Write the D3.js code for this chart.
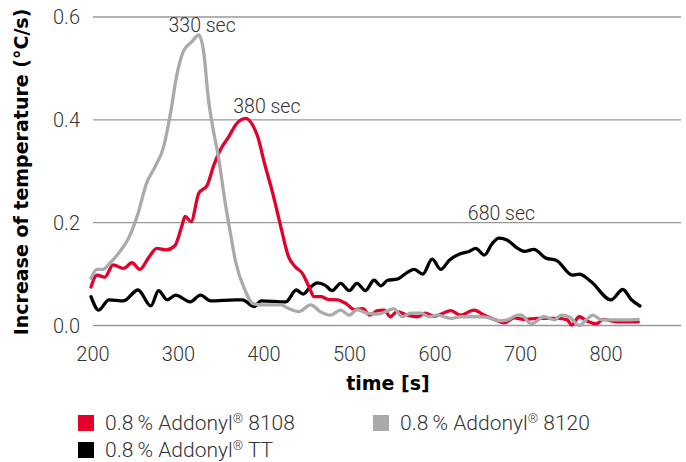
<!DOCTYPE html>
<html>
<head>
<meta charset="utf-8">
<script src="https://cdn.jsdelivr.net/npm/d3@7"></script>
<style>
  body { margin: 0; background: #fff; }
  svg text { font-family: Roboto, "Liberation Sans", sans-serif; }
  svg text.title { font-family: "DejaVu Sans", sans-serif; font-weight: 700; }
</style>
</head>
<body>
<div id="chart"></div>
<script>
// values
var xTicks = [200, 300, 400, 500, 600, 700, 800];
var yTicks = [0.0, 0.2, 0.4, 0.6];

var redTime = [200, 207, 216, 226, 238, 248, 257, 267, 277, 288, 298, 306, 310, 317, 326, 336, 343, 351, 361, 370, 381, 389, 395, 403, 413, 422, 431, 439, 447, 455, 461, 469, 477, 488, 498, 508, 518, 526, 535, 543, 550, 558, 570, 582, 591, 601, 621, 632, 648, 660, 673, 683, 695, 706, 722, 746, 757, 762, 771, 781, 791, 799, 816, 840];
var redRate = [0.075, 0.098, 0.094, 0.118, 0.111, 0.122, 0.109, 0.131, 0.150, 0.147, 0.155, 0.192, 0.212, 0.202, 0.257, 0.273, 0.309, 0.341, 0.367, 0.392, 0.403, 0.390, 0.367, 0.315, 0.254, 0.192, 0.134, 0.114, 0.102, 0.075, 0.056, 0.056, 0.051, 0.050, 0.043, 0.031, 0.033, 0.020, 0.029, 0.030, 0.017, 0.027, 0.020, 0.017, 0.024, 0.018, 0.029, 0.020, 0.030, 0.020, 0.011, 0.005, 0.015, 0.012, 0.014, 0.014, 0.011, 0.001, 0.017, 0.008, 0.003, 0.012, 0.007, 0.007];

var grayTime = [200, 207, 214, 222, 232, 244, 255, 265, 275, 285, 293, 300, 308, 318, 326, 332, 337, 343, 349, 357, 363, 369, 380, 390, 402, 422, 431, 443, 457, 468, 480, 492, 502, 511, 523, 535, 545, 554, 564, 574, 586, 595, 605, 621, 632, 644, 656, 668, 677, 687, 699, 703, 715, 730, 742, 750, 760, 771, 779, 787, 797, 808, 824, 840];
var grayRate = [0.092, 0.109, 0.109, 0.121, 0.140, 0.170, 0.218, 0.277, 0.309, 0.348, 0.413, 0.484, 0.533, 0.552, 0.565, 0.529, 0.445, 0.380, 0.328, 0.238, 0.180, 0.125, 0.069, 0.042, 0.040, 0.040, 0.033, 0.027, 0.040, 0.027, 0.020, 0.030, 0.020, 0.031, 0.024, 0.022, 0.027, 0.033, 0.017, 0.024, 0.024, 0.017, 0.020, 0.014, 0.017, 0.017, 0.017, 0.014, 0.009, 0.011, 0.020, 0.020, 0.003, 0.017, 0.011, 0.020, 0.016, 0.000, 0.011, 0.020, 0.011, 0.011, 0.011, 0.012];

var blackTime = [200, 209, 221, 238, 255, 270, 279, 289, 299, 316, 328, 340, 369, 377, 391, 399, 428, 440, 448, 455, 465, 474, 482, 492, 502, 511, 521, 531, 539, 547, 558, 568, 578, 588, 599, 609, 619, 631, 642, 650, 660, 669, 677, 687, 699, 707, 718, 732, 744, 763, 771, 785, 808, 822, 832, 842];
var blackRate = [0.056, 0.030, 0.050, 0.048, 0.069, 0.038, 0.068, 0.050, 0.059, 0.046, 0.059, 0.048, 0.050, 0.050, 0.037, 0.048, 0.046, 0.069, 0.061, 0.072, 0.083, 0.078, 0.068, 0.082, 0.068, 0.082, 0.068, 0.088, 0.077, 0.088, 0.090, 0.101, 0.109, 0.100, 0.129, 0.109, 0.127, 0.139, 0.144, 0.150, 0.137, 0.159, 0.170, 0.166, 0.150, 0.144, 0.148, 0.131, 0.127, 0.098, 0.100, 0.085, 0.050, 0.070, 0.050, 0.038];

var seriesNames = ["0.8\u2009% Addonyl", "0.8\u2009% Addonyl", "0.8\u2009% Addonyl"];
var seriesSuffix = [" 8108", " 8120", " TT"];
var seriesColors = ["#e4002b", "#aaaaaa", "#000000"];

var peakLabels = ["330 sec", "380 sec", "680 sec"];
var peakTimes = [330, 380, 680];
var peakRates = [0.565, 0.403, 0.170];

var svgWidth = 686;
var svgHeight = 462;

var svg = d3.select('#chart').append('svg')
  .attr('width', svgWidth)
  .attr('height', svgHeight);

var xScale = d3.scaleLinear()
  .domain([200, 890])
  .range([91, 681]);

var yScale = d3.scaleLinear()
  .domain([0, 0.6])
  .range([325.5, 17]);

// horizontal grid lines
svg.selectAll('line.grid')
  .data(yTicks)
  .enter()
  .append('line')
  .attr('class', 'grid')
  .attr('x1', xScale(200) + 2)
  .attr('x2', xScale(890))
  .attr('y1', function(d) { return yScale(d); })
  .attr('y2', function(d) { return yScale(d); })
  .attr('stroke', '#999')
  .attr('stroke-width', 1.3);

// y tick labels
svg.selectAll('text.ytick')
  .data(yTicks)
  .enter()
  .append('text')
  .attr('class', 'ytick')
  .attr('x', 80)
  .attr('y', function(d) { return yScale(d) + 7; })
  .attr('text-anchor', 'end')
  .attr('font-size', 20)
  .attr('font-weight', 300)
  .attr('fill', '#333')
  .text(function(d) { return d.toFixed(1); });

// x tick labels
svg.selectAll('text.xtick')
  .data(xTicks)
  .enter()
  .append('text')
  .attr('class', 'xtick')
  .attr('x', function(d) { return xScale(d) + 2; })
  .attr('y', 361)
  .attr('text-anchor', 'middle')
  .attr('font-size', 20)
  .attr('font-weight', 300)
  .attr('fill', '#333')
  .text(function(d) { return d; });

// axis titles
svg.append('text')
  .attr('class', 'title')
  .attr('transform', 'translate(28,172) rotate(-90)')
  .attr('text-anchor', 'middle')
  .attr('font-size', 19)
  .attr('fill', '#000')
  .text('Increase of temperature (°C/s)');

svg.append('text')
  .attr('class', 'title')
  .attr('x', 388)
  .attr('y', 390)
  .attr('text-anchor', 'middle')
  .attr('font-size', 19)
  .attr('fill', '#000')
  .text('time [s]');

// lines, black first then red then gray on top
var line = d3.line()
  .x(function(d) { return xScale(d[0]); })
  .y(function(d) { return yScale(d[1]); })
  .curve(d3.curveMonotoneX);

var series = [
  d3.zip(redTime, redRate),
  d3.zip(grayTime, grayRate),
  d3.zip(blackTime, blackRate)
];
var drawOrder = [2, 0, 1];

drawOrder.forEach(function(i) {
  svg.append('path')
    .datum(series[i])
    .attr('d', line)
    .attr('fill', 'none')
    .attr('stroke', seriesColors[i])
    .attr('stroke-width', 3.3)
    .attr('stroke-linejoin', 'round')
    .attr('stroke-linecap', 'round');
});

// peak annotations (nudged like in the original)
var labelDx = [0, 22, 0];
var labelDy = [-3, -5, -18];

svg.selectAll('text.peak')
  .data(peakLabels)
  .enter()
  .append('text')
  .attr('class', 'peak')
  .attr('x', function(d, i) { return xScale(peakTimes[i]) + labelDx[i]; })
  .attr('y', function(d, i) { return yScale(peakRates[i]) + labelDy[i]; })
  .attr('text-anchor', 'middle')
  .attr('font-size', 19.5)
  .attr('font-weight', 300)
  .attr('fill', '#333')
  .text(function(d) { return d; });

// legend
var legendX = [78, 373, 78];
var legendY = [415, 415, 442];

seriesNames.forEach(function(name, i) {
  svg.append('rect')
    .attr('x', legendX[i])
    .attr('y', legendY[i])
    .attr('width', 16)
    .attr('height', 16)
    .attr('fill', seriesColors[i]);

  var t = svg.append('text')
    .attr('x', legendX[i] + 27)
    .attr('y', legendY[i] + 15)
    .attr('font-size', 21)
    .attr('font-weight', 300)
    .attr('fill', '#333');
  t.append('tspan').text(name);
  t.append('tspan')
    .attr('font-size', 13)
    .attr('dy', -7)
    .text('®');
  t.append('tspan')
    .attr('dy', 7)
    .text(seriesSuffix[i]);
});
</script>
</body>
</html>
